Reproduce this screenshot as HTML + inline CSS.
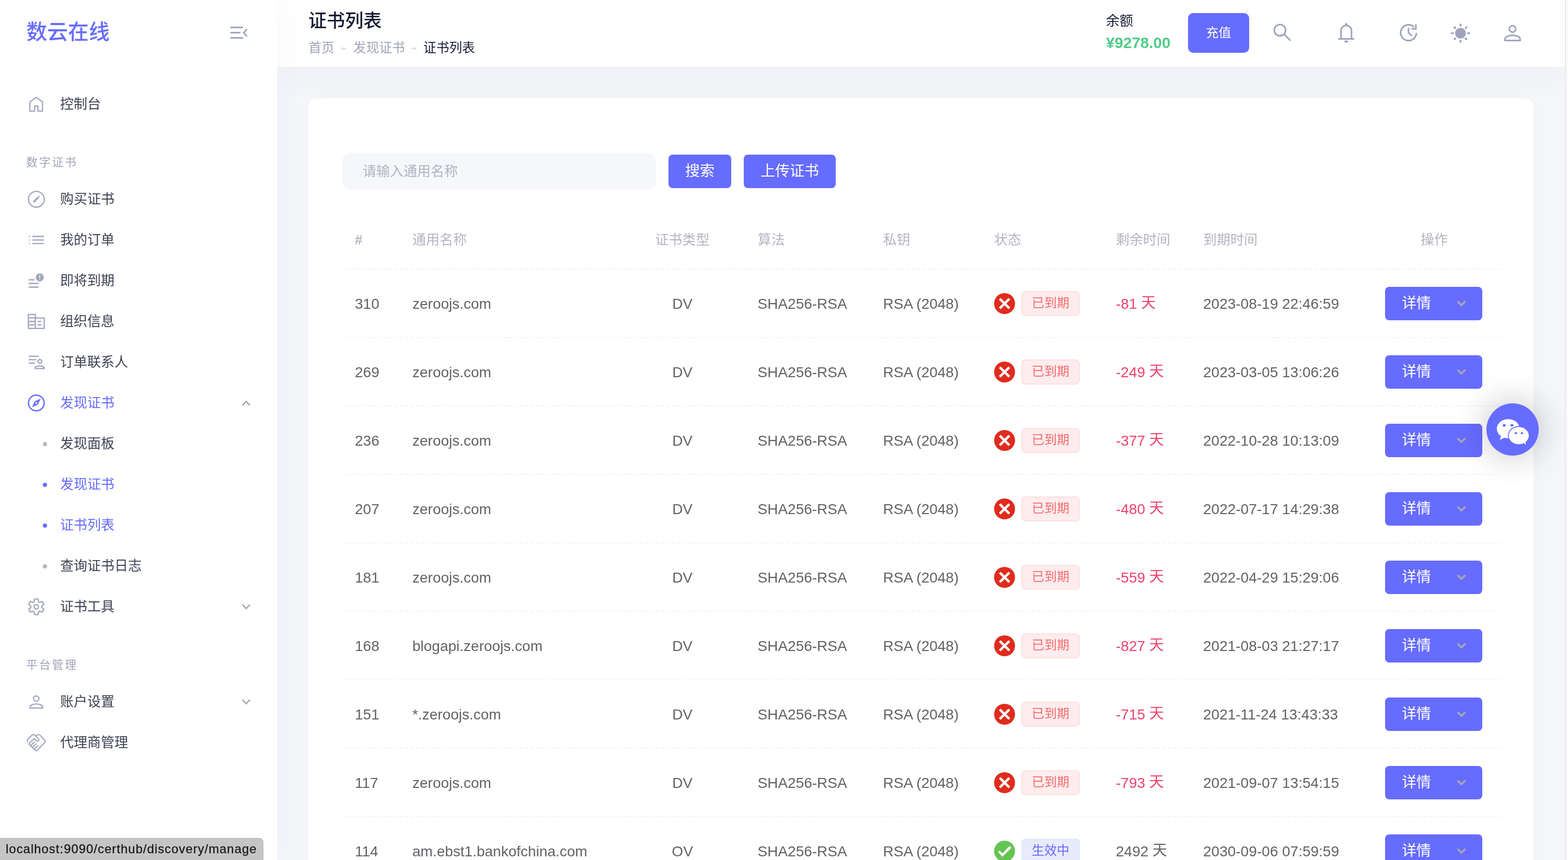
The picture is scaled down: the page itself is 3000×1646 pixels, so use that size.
<!DOCTYPE html><html lang="zh-CN"><head><meta charset="utf-8"><title>证书列表</title><style>
*{box-sizing:border-box;margin:0;padding:0}
html,body{width:3000px;height:1646px;overflow:hidden;background:#f5f6fa}
body{font-family:"Liberation Sans","Noto Sans CJK SC",sans-serif;position:relative;color:#5e6278}
.z{position:relative;display:inline-block;flex:none;line-height:1;vertical-align:middle}
.z i{position:absolute;left:0;top:0;width:100%;height:100%;color:inherit;font-style:normal;white-space:nowrap;overflow:visible;line-height:1;font-family:"Liberation Sans","Noto Sans CJK SC",sans-serif}
.a{position:absolute}
svg.ic{position:absolute;overflow:visible;fill:none;stroke:currentColor}
aside{position:absolute;left:0;top:0;width:530px;height:1646px;background:#fff;box-shadow:0 0 56px 0 rgba(76,87,125,.04);z-index:3}
aside .logo{position:absolute;left:50.5px;top:42.4px;color:#666cff;font-weight:500}
aside .it{position:absolute;left:0;width:530px;height:78px;color:#3f4254}
aside .it .t{position:absolute;left:115px;top:26px}
aside .it.on{color:#666cff}
aside .lab{position:absolute;left:50px;color:#a1a5b7}
aside .lab .z i{letter-spacing:2.7px}
aside .dot{position:absolute;left:82px;top:35.8px;width:8px;height:8px;border-radius:50%;background:#b5b5c3}
aside .it.on .dot{background:#666cff}
.gi{color:#9fa3bc}
header{will-change:transform;position:absolute;left:530px;top:0;width:2464px;height:128px;background:#fff;box-shadow:0 20px 60px 0 rgba(76,87,125,.035);z-index:2}
header .ttl{position:absolute;left:60px;top:22.3px;color:#181c32;font-weight:500}
header .bc{position:absolute;top:80.4px;color:#a1a5b7}
header .bc.cur{color:#181c32}
header .sep{position:absolute;top:91px;width:10px;height:4px;border-radius:2px;background:#e1e3ea}
header .bal{position:absolute;left:1586px;top:27px;color:#181c32}
header .amt{position:absolute;left:1586px;top:64px;height:36px;line-height:36px;font-size:29.6px;font-weight:700;color:#50cd89;white-space:nowrap}
.btn{position:absolute;background:#666cff;color:#fff;border-radius:8px;display:flex;align-items:center;justify-content:center}
main{position:absolute;left:530px;top:128px;width:2464px;height:1518px;z-index:1}
.card{will-change:transform;position:absolute;left:60px;top:60px;width:2344px;height:1600px;background:#fff;border-radius:16px;box-shadow:0 0 40px 0 rgba(76,87,125,.02)}
.inp{position:absolute;left:65px;top:105px;width:600px;height:70px;border-radius:16px;background:#f6f7fa;color:#b1b3c1}
.inp .z{position:absolute;left:39px;top:21.8px}
.tbl{position:absolute;left:65px;top:261px;width:2215px}
.tr{position:absolute;left:0;width:2215px;height:131px;border-bottom:2px dashed #f2f4f7;font-size:28px;color:#606266}
.th{top:0;height:67px;color:#b5b5c3;border-bottom:2px dashed #f2f4f7}
.c{position:absolute;top:1px;height:129px;display:flex;align-items:center;white-space:nowrap}
.th .c{height:20px;top:-6px}
.cc{justify-content:center}
.tag{position:absolute;left:1299px;top:41px;width:112px;height:48px;border-radius:8px;border:2px solid #fde0e2;background:#feecee;color:#f56c6c;display:flex;align-items:center;justify-content:center}
.tag.ok{border-color:#d9ecff;background:#e9eafc;color:#666cff}
.neg{color:#f1416c}
.fab{position:absolute;left:2844px;top:772px;width:100px;height:100px;border-radius:50%;background:#666cff;box-shadow:0 0 56px 8px rgba(20,20,30,.19);z-index:5}
.sb{position:absolute;left:2994px;top:0;width:6px;height:1646px;background:#fafafa;border-left:2px solid #e8e8e8;z-index:6}
.status{will-change:transform;position:absolute;left:0;top:1604px;width:504px;height:42px;background:#c5c5c5;border-top:1.5px solid #b0b0b0;border-right:1px solid #b8b8b8;border-top-right-radius:8px;color:#161616;font-size:23.8px;line-height:40px;padding-left:11px;z-index:9;white-space:nowrap;letter-spacing:1.06px;-webkit-text-stroke:.3px #161616}
</style></head><body><aside><div class="logo"><span class="z" style="width:159.2px;height:39.8px;font-size:39.8px;"><i>数云在线</i></span></div><span class="gi"><svg class="ic" style="left:436px;top:46px;stroke-width:2.8;" width="44" height="34" viewBox="436 46 44 34"><path d="M440.9,52.5H465M440.9,62.5H459.8M440.9,72.5H465M472.8,55.6L466.1,62.7L472.8,69.8"/></svg></span><div class="lab" style="top:300px"><span class="z" style="width:98.8px;height:22px;font-size:22px;"><i>数字证书</i></span></div><div class="lab" style="top:1262px"><span class="z" style="width:98.8px;height:22px;font-size:22px;"><i>平台管理</i></span></div><div class="it" style="top:160px"><span class="gi" style="position:absolute;left:0;top:-160px"><svg class="ic" style="left:50px;top:180px;stroke-width:2.3;" width="40" height="40" viewBox="50 180 40 40"><path d="M57.2,212.7V195L69.3,186.4L81.3,195V212.7H72.5V202.9H66.4V212.7Z"/></svg></span><span class="t"><span class="z" style="width:78px;height:26px;font-size:26px;"><i>控制台</i></span></span></div><div class="it" style="top:342px"><span class="gi" style="position:absolute;left:0;top:-342px"><svg class="ic" style="left:50px;top:361px;stroke-width:2.3;" width="40" height="40" viewBox="50 361 40 40"><circle cx="69.5" cy="381.4" r="15.1"/><path d="M63.2,387.7L64.4,384.9L72.3,377L75,379.7L67.1,387.6Z" fill="currentColor" stroke="none" transform="translate(-0.6,-0.5)"/><path d="M73.9,376.9L75.3,375.5" stroke-width="3.4"/></svg></span><span class="t"><span class="z" style="width:104px;height:26px;font-size:26px;"><i>购买证书</i></span></span></div><div class="it" style="top:420px"><span class="gi" style="position:absolute;left:0;top:-420px"><svg class="ic" style="left:50px;top:439px;stroke-width:2.3;" width="40" height="40" viewBox="50 439 40 40"><path d="M62,452.5H84M62,459.3H84M62,466.1H84M55.3,452.5H57.1M55.3,459.3H57.1M55.3,466.1H57.1"/></svg></span><span class="t"><span class="z" style="width:104px;height:26px;font-size:26px;"><i>我的订单</i></span></span></div><div class="it" style="top:498px"><span class="gi" style="position:absolute;left:0;top:-498px"><svg class="ic" style="left:50px;top:517px;stroke-width:2.3;" width="40" height="40" viewBox="50 517 40 40"><path d="M54.9,535.5H66M54.9,542.5H73.9M54.9,549.5H73.9"/><circle cx="76.1" cy="530.8" r="7.6" fill="currentColor" stroke="none"/><path d="M76.1,526.4V532.2M76.1,533.9V535.6" stroke="#fff" stroke-width="1.7"/></svg></span><span class="t"><span class="z" style="width:104px;height:26px;font-size:26px;"><i>即将到期</i></span></span></div><div class="it" style="top:576px"><span class="gi" style="position:absolute;left:0;top:-576px"><svg class="ic" style="left:50px;top:595px;stroke-width:2.3;" width="40" height="40" viewBox="50 595 40 40"><path d="M54.35,601.95H67.65V628.55H54.35ZM67.65,608.6H84.55V628.55H67.65M54.35,608.6H67.65M54.35,615.25H67.65M54.35,621.9H67.65M72.1,615.25H78.9M72.1,621.9H78.9"/></svg></span><span class="t"><span class="z" style="width:104px;height:26px;font-size:26px;"><i>组织信息</i></span></span></div><div class="it" style="top:654px"><span class="gi" style="position:absolute;left:0;top:-654px"><svg class="ic" style="left:50px;top:673px;stroke-width:2.3;" width="40" height="40" viewBox="50 673 40 40"><path d="M54.9,681.8H73.9M54.9,688.4H69.6M54.9,695H66.8"/><circle cx="76.2" cy="691.8" r="3.55"/><path d="M67.35,705.35H84.55V703.9C84.55,701.8 80.3,700.35 75.95,700.35S67.35,701.8 67.35,703.9Z"/></svg></span><span class="t"><span class="z" style="width:130px;height:26px;font-size:26px;"><i>订单联系人</i></span></span></div><div class="it on" style="top:732px"><span class="gi" style="position:absolute;left:0;top:-732px;color:#666cff"><svg class="ic" style="left:50px;top:751px;stroke-width:2.6;" width="40" height="40" viewBox="50 751 40 40"><circle cx="69.5" cy="771.3" r="15"/><path d="M77.8,763L72.5,774.3L61.2,779.6L66.5,768.3Z" fill="currentColor" stroke="none"/><circle cx="69.5" cy="771.3" r="1.8" fill="#fff" stroke="none"/></svg></span><span class="t"><span class="z" style="width:104px;height:26px;font-size:26px;"><i>发现证书</i></span></span><span style="position:absolute;left:0;top:-732px"><svg class="ic" style="left:461px;top:764.35px;stroke-width:2.6;color:#a1a5b7" width="20" height="16" viewBox="461 764.35 20 16"><path d="M463.9,776.15L471,768.5500000000001L478.1,776.15"/></svg></span></div><div class="it" style="top:810px"><span class="dot"></span><span class="t"><span class="z" style="width:104px;height:26px;font-size:26px;"><i>发现面板</i></span></span></div><div class="it on" style="top:888px"><span class="dot"></span><span class="t"><span class="z" style="width:104px;height:26px;font-size:26px;"><i>发现证书</i></span></span></div><div class="it on" style="top:966px"><span class="dot"></span><span class="t"><span class="z" style="width:104px;height:26px;font-size:26px;"><i>证书列表</i></span></span></div><div class="it" style="top:1044px"><span class="dot"></span><span class="t"><span class="z" style="width:156px;height:26px;font-size:26px;"><i>查询证书日志</i></span></span></div><div class="it" style="top:1122px"><span class="gi" style="position:absolute;left:0;top:-1122px"><svg class="ic" style="left:50px;top:1141px;stroke-width:2.3;" width="40" height="40" viewBox="50 1141 40 40"><path d="M65.28,1151.76 L66.27,1146.43 L72.63,1146.43 L73.62,1151.76 L75.71,1152.97 L80.82,1151.16 L84.00,1156.67 L79.88,1160.19 L79.88,1162.61 L84.00,1166.13 L80.82,1171.64 L75.71,1169.83 L73.62,1171.04 L72.63,1176.37 L66.27,1176.37 L65.28,1171.04 L63.19,1169.83 L58.08,1171.64 L54.90,1166.13 L59.02,1162.61 L59.02,1160.19 L54.90,1156.67 L58.08,1151.16 L63.19,1152.97Z" stroke-linejoin="round"/><circle cx="69.45" cy="1161.4" r="4.2"/></svg></span><span class="t"><span class="z" style="width:104px;height:26px;font-size:26px;"><i>证书工具</i></span></span><span style="position:absolute;left:0;top:-1122px"><svg class="ic" style="left:461px;top:1153.2px;stroke-width:2.6;color:#a1a5b7" width="20" height="16" viewBox="461 1153.2 20 16"><path d="M463.9,1157.4L471,1165.0L478.1,1157.4"/></svg></span></div><div class="it" style="top:1304px"><span class="gi" style="position:absolute;left:0;top:-1304px"><svg class="ic" style="left:50px;top:1323px;stroke-width:2.3;" width="40" height="40" viewBox="50 1323 40 40"><circle cx="69.4" cy="1337.1" r="5.1"/><path d="M57.55,1355.15H81.55V1352.9C81.55,1349.7 75.5,1347.35 69.55,1347.35S57.55,1349.7 57.55,1352.9Z"/></svg></span><span class="t"><span class="z" style="width:104px;height:26px;font-size:26px;"><i>账户设置</i></span></span><span style="position:absolute;left:0;top:-1304px"><svg class="ic" style="left:461px;top:1335.2px;stroke-width:2.6;color:#a1a5b7" width="20" height="16" viewBox="461 1335.2 20 16"><path d="M463.9,1339.4L471,1347.0L478.1,1339.4"/></svg></span></div><div class="it" style="top:1382px"><span class="gi" style="position:absolute;left:0;top:-1382px"><svg class="ic" style="left:48px;top:1400px;stroke-width:2.1;" width="44" height="42" viewBox="48 1400 44 42"><path d="M53.7,1420.8C52.0,1418.6 52.1,1416.0 54.2,1413.8L60.8,1407.3C62.6,1405.5 65.0,1405.5 66.9,1407.3L73.3,1413.8C75.0,1415.4 74.8,1417.1 73.3,1418.0C72.0,1418.9 70.4,1418.6 69.3,1417.5L65.4,1413.4L56.4,1422.4C55.3,1423.5 55.6,1425.0 56.9,1425.9L67.4,1436.0C68.5,1437.1 70.2,1437.0 71.3,1435.9L85.1,1422.1C86.7,1420.4 86.9,1418.0 85.3,1416.2L77.2,1407.7C75.3,1405.9 72.4,1405.7 70.5,1407.3L69.1,1408.7" stroke-linejoin="round"/><path d="M58.4,1427.4L65.9,1419.8M62,1430.7L69.3,1423.5M65.6,1434.1L72.9,1426.8"/></svg></span><span class="t"><span class="z" style="width:130px;height:26px;font-size:26px;"><i>代理商管理</i></span></span></div></aside><header><div class="ttl"><span class="z" style="width:140.4px;height:35.1px;font-size:35.1px;"><i>证书列表</i></span></div><div class="bc" style="left:60.2px"><span class="z" style="width:49.4px;height:24.7px;font-size:24.7px;"><i>首页</i></span></div><span class="sep" style="left:122px"></span><div class="bc" style="left:146px"><span class="z" style="width:98.8px;height:24.7px;font-size:24.7px;"><i>发现证书</i></span></div><span class="sep" style="left:257px"></span><div class="bc cur" style="left:280px"><span class="z" style="width:98.8px;height:24.7px;font-size:24.7px;"><i>证书列表</i></span></div><div class="bal"><span class="z" style="width:52px;height:26px;font-size:26px;"><i>余额</i></span></div><div class="amt">¥9278.00</div><div class="btn" style="left:1743px;top:25px;width:117px;height:76px;border-radius:10px"><span class="z" style="width:48px;height:24px;font-size:24px;top:-0.5px;"><i>充值</i></span></div><svg class="ic gi" style="left:1900px;top:40px;stroke-width:3" width="46" height="46" viewBox="2430 40 46 46"><circle cx="2448.9" cy="57.7" r="10.8"/><path d="M2456.6,65.4L2468.9,77.7"/></svg><svg class="ic gi" style="left:2024px;top:40px;stroke-width:3" width="44" height="46" viewBox="2554 40 44 46"><path d="M2565.7,74.5V58.7A10.05,10.05 0 0 1 2585.8,58.7V74.5M2560.3,74.5H2591"/><circle cx="2575.7" cy="46.2" r="2.2" fill="currentColor" stroke="none"/><path d="M2571.9,77.8H2579.6A3.85,3.85 0 0 1 2571.9,77.8Z" fill="currentColor" stroke="none"/></svg><svg class="ic gi" style="left:2144px;top:40px;stroke-width:3" width="44" height="46" viewBox="2674 40 44 46"><path d="M2705.20,51.56A15.1,15.1 0 1 0 2710.00,62.90"/><path d="M2709,46.8V55.1H2700.4"/><path d="M2694.9,53.3V62.3L2701.3,68.7"/></svg><svg class="ic gi" style="left:2242px;top:40px;stroke-width:3" width="46" height="48" viewBox="2772 40 46 48"><circle cx="2794.3" cy="63.6" r="10.3" fill="currentColor" stroke="none"/><path d="M2808.70,63.60L2811.00,63.60M2804.20,73.50L2805.76,75.06M2794.30,78.00L2794.30,80.30M2784.40,73.50L2782.84,75.06M2779.90,63.60L2777.60,63.60M2784.40,53.70L2782.84,52.14M2794.30,49.20L2794.30,46.90M2804.20,53.70L2805.76,52.14" stroke-linecap="round" stroke-width="3.6"/></svg><svg class="ic gi" style="left:2342px;top:40px;stroke-width:3" width="44" height="46" viewBox="2872 40 44 46"><circle cx="2893.9" cy="55.4" r="6.2"/><path d="M2879.5,77.5H2908.5V74.7C2908.5,70.5 2901.2,67.6 2894,67.6S2879.5,70.5 2879.5,74.7Z"/></svg></header><main><div class="card"><div class="inp"><span class="z" style="width:182px;height:26px;font-size:26px;"><i>请输入通用名称</i></span></div><div class="btn" style="left:689px;top:108px;width:120px;height:64px"><span class="z" style="width:56px;height:28px;font-size:28px;"><i>搜索</i></span></div><div class="btn" style="left:833px;top:108px;width:176px;height:64px"><span class="z" style="width:112px;height:28px;font-size:28px;"><i>上传证书</i></span></div><div class="tbl"><div class="tr th"><div class="c" style="left:24px;top:-4.6px;height:30px;font-size:26px;font-weight:700">#</div><div class="c" style="left:134px;top:-4.6px;height:30px"><span class="z" style="width:104px;height:26px;font-size:26px;"><i>通用名称</i></span></div><div class="c" style="left:598.6px;top:-4.6px;height:30px"><span class="z" style="width:104px;height:26px;font-size:26px;"><i>证书类型</i></span></div><div class="c" style="left:794.5px;top:-4.6px;height:30px"><span class="z" style="width:52px;height:26px;font-size:26px;"><i>算法</i></span></div><div class="c" style="left:1034.5px;top:-4.6px;height:30px"><span class="z" style="width:52px;height:26px;font-size:26px;"><i>私钥</i></span></div><div class="c" style="left:1247px;top:-4.6px;height:30px"><span class="z" style="width:52px;height:26px;font-size:26px;"><i>状态</i></span></div><div class="c" style="left:1480px;top:-4.6px;height:30px"><span class="z" style="width:104px;height:26px;font-size:26px;"><i>剩余时间</i></span></div><div class="c" style="left:1647px;top:-4.6px;height:30px"><span class="z" style="width:104px;height:26px;font-size:26px;"><i>到期时间</i></span></div><div class="c" style="left:2063px;top:-4.6px;height:30px"><span class="z" style="width:52px;height:26px;font-size:26px;"><i>操作</i></span></div></div><div class="tr" style="top:67px"><div class="c" style="left:24px">310</div><div class="c" style="left:134px">zeroojs.com</div><div class="c cc" style="left:590.6px;width:120px">DV</div><div class="c" style="left:794.5px">SHA256-RSA</div><div class="c" style="left:1034.5px">RSA (2048)</div><svg class="ic" style="left:1247px;top:45px" width="40" height="40" viewBox="-20 -20 40 40"><circle r="20" fill="#e02b1d" stroke="none"/><path d="M-9.2,-9.2L9.2,9.2M9.2,-9.2L-9.2,9.2" stroke="#fff" stroke-width="4.7"/></svg><div class="tag"><span class="z" style="width:72px;height:24px;font-size:24px;top:-0.9px;"><i>已到期</i></span></div><div class="c neg" style="left:1480px">-81&nbsp;<span class="z" style="width:28px;height:28px;font-size:28px;top:-1.5px;"><i>天</i></span></div><div class="c" style="left:1647px">2023-08-19 22:46:59</div><div class="btn" style="left:1995px;top:33px;width:186px;height:64px;justify-content:flex-start;padding-left:32px"><span class="z" style="width:56px;height:28px;font-size:28px;"><i>详情</i></span><svg class="ic" style="left:133px;top:20px;color:#a1a5b7" width="28" height="24" viewBox="2783 569 28 24"><path d="M2789.8,577.9L2796.1,584.2L2802.4,577.9" stroke-width="4" stroke-linecap="round" stroke-linejoin="round"/></svg></div></div><div class="tr" style="top:198px"><div class="c" style="left:24px">269</div><div class="c" style="left:134px">zeroojs.com</div><div class="c cc" style="left:590.6px;width:120px">DV</div><div class="c" style="left:794.5px">SHA256-RSA</div><div class="c" style="left:1034.5px">RSA (2048)</div><svg class="ic" style="left:1247px;top:45px" width="40" height="40" viewBox="-20 -20 40 40"><circle r="20" fill="#e02b1d" stroke="none"/><path d="M-9.2,-9.2L9.2,9.2M9.2,-9.2L-9.2,9.2" stroke="#fff" stroke-width="4.7"/></svg><div class="tag"><span class="z" style="width:72px;height:24px;font-size:24px;top:-0.9px;"><i>已到期</i></span></div><div class="c neg" style="left:1480px">-249&nbsp;<span class="z" style="width:28px;height:28px;font-size:28px;top:-1.5px;"><i>天</i></span></div><div class="c" style="left:1647px">2023-03-05 13:06:26</div><div class="btn" style="left:1995px;top:33px;width:186px;height:64px;justify-content:flex-start;padding-left:32px"><span class="z" style="width:56px;height:28px;font-size:28px;"><i>详情</i></span><svg class="ic" style="left:133px;top:20px;color:#a1a5b7" width="28" height="24" viewBox="2783 569 28 24"><path d="M2789.8,577.9L2796.1,584.2L2802.4,577.9" stroke-width="4" stroke-linecap="round" stroke-linejoin="round"/></svg></div></div><div class="tr" style="top:329px"><div class="c" style="left:24px">236</div><div class="c" style="left:134px">zeroojs.com</div><div class="c cc" style="left:590.6px;width:120px">DV</div><div class="c" style="left:794.5px">SHA256-RSA</div><div class="c" style="left:1034.5px">RSA (2048)</div><svg class="ic" style="left:1247px;top:45px" width="40" height="40" viewBox="-20 -20 40 40"><circle r="20" fill="#e02b1d" stroke="none"/><path d="M-9.2,-9.2L9.2,9.2M9.2,-9.2L-9.2,9.2" stroke="#fff" stroke-width="4.7"/></svg><div class="tag"><span class="z" style="width:72px;height:24px;font-size:24px;top:-0.9px;"><i>已到期</i></span></div><div class="c neg" style="left:1480px">-377&nbsp;<span class="z" style="width:28px;height:28px;font-size:28px;top:-1.5px;"><i>天</i></span></div><div class="c" style="left:1647px">2022-10-28 10:13:09</div><div class="btn" style="left:1995px;top:33px;width:186px;height:64px;justify-content:flex-start;padding-left:32px"><span class="z" style="width:56px;height:28px;font-size:28px;"><i>详情</i></span><svg class="ic" style="left:133px;top:20px;color:#a1a5b7" width="28" height="24" viewBox="2783 569 28 24"><path d="M2789.8,577.9L2796.1,584.2L2802.4,577.9" stroke-width="4" stroke-linecap="round" stroke-linejoin="round"/></svg></div></div><div class="tr" style="top:460px"><div class="c" style="left:24px">207</div><div class="c" style="left:134px">zeroojs.com</div><div class="c cc" style="left:590.6px;width:120px">DV</div><div class="c" style="left:794.5px">SHA256-RSA</div><div class="c" style="left:1034.5px">RSA (2048)</div><svg class="ic" style="left:1247px;top:45px" width="40" height="40" viewBox="-20 -20 40 40"><circle r="20" fill="#e02b1d" stroke="none"/><path d="M-9.2,-9.2L9.2,9.2M9.2,-9.2L-9.2,9.2" stroke="#fff" stroke-width="4.7"/></svg><div class="tag"><span class="z" style="width:72px;height:24px;font-size:24px;top:-0.9px;"><i>已到期</i></span></div><div class="c neg" style="left:1480px">-480&nbsp;<span class="z" style="width:28px;height:28px;font-size:28px;top:-1.5px;"><i>天</i></span></div><div class="c" style="left:1647px">2022-07-17 14:29:38</div><div class="btn" style="left:1995px;top:33px;width:186px;height:64px;justify-content:flex-start;padding-left:32px"><span class="z" style="width:56px;height:28px;font-size:28px;"><i>详情</i></span><svg class="ic" style="left:133px;top:20px;color:#a1a5b7" width="28" height="24" viewBox="2783 569 28 24"><path d="M2789.8,577.9L2796.1,584.2L2802.4,577.9" stroke-width="4" stroke-linecap="round" stroke-linejoin="round"/></svg></div></div><div class="tr" style="top:591px"><div class="c" style="left:24px">181</div><div class="c" style="left:134px">zeroojs.com</div><div class="c cc" style="left:590.6px;width:120px">DV</div><div class="c" style="left:794.5px">SHA256-RSA</div><div class="c" style="left:1034.5px">RSA (2048)</div><svg class="ic" style="left:1247px;top:45px" width="40" height="40" viewBox="-20 -20 40 40"><circle r="20" fill="#e02b1d" stroke="none"/><path d="M-9.2,-9.2L9.2,9.2M9.2,-9.2L-9.2,9.2" stroke="#fff" stroke-width="4.7"/></svg><div class="tag"><span class="z" style="width:72px;height:24px;font-size:24px;top:-0.9px;"><i>已到期</i></span></div><div class="c neg" style="left:1480px">-559&nbsp;<span class="z" style="width:28px;height:28px;font-size:28px;top:-1.5px;"><i>天</i></span></div><div class="c" style="left:1647px">2022-04-29 15:29:06</div><div class="btn" style="left:1995px;top:33px;width:186px;height:64px;justify-content:flex-start;padding-left:32px"><span class="z" style="width:56px;height:28px;font-size:28px;"><i>详情</i></span><svg class="ic" style="left:133px;top:20px;color:#a1a5b7" width="28" height="24" viewBox="2783 569 28 24"><path d="M2789.8,577.9L2796.1,584.2L2802.4,577.9" stroke-width="4" stroke-linecap="round" stroke-linejoin="round"/></svg></div></div><div class="tr" style="top:722px"><div class="c" style="left:24px">168</div><div class="c" style="left:134px">blogapi.zeroojs.com</div><div class="c cc" style="left:590.6px;width:120px">DV</div><div class="c" style="left:794.5px">SHA256-RSA</div><div class="c" style="left:1034.5px">RSA (2048)</div><svg class="ic" style="left:1247px;top:45px" width="40" height="40" viewBox="-20 -20 40 40"><circle r="20" fill="#e02b1d" stroke="none"/><path d="M-9.2,-9.2L9.2,9.2M9.2,-9.2L-9.2,9.2" stroke="#fff" stroke-width="4.7"/></svg><div class="tag"><span class="z" style="width:72px;height:24px;font-size:24px;top:-0.9px;"><i>已到期</i></span></div><div class="c neg" style="left:1480px">-827&nbsp;<span class="z" style="width:28px;height:28px;font-size:28px;top:-1.5px;"><i>天</i></span></div><div class="c" style="left:1647px">2021-08-03 21:27:17</div><div class="btn" style="left:1995px;top:33px;width:186px;height:64px;justify-content:flex-start;padding-left:32px"><span class="z" style="width:56px;height:28px;font-size:28px;"><i>详情</i></span><svg class="ic" style="left:133px;top:20px;color:#a1a5b7" width="28" height="24" viewBox="2783 569 28 24"><path d="M2789.8,577.9L2796.1,584.2L2802.4,577.9" stroke-width="4" stroke-linecap="round" stroke-linejoin="round"/></svg></div></div><div class="tr" style="top:853px"><div class="c" style="left:24px">151</div><div class="c" style="left:134px">*.zeroojs.com</div><div class="c cc" style="left:590.6px;width:120px">DV</div><div class="c" style="left:794.5px">SHA256-RSA</div><div class="c" style="left:1034.5px">RSA (2048)</div><svg class="ic" style="left:1247px;top:45px" width="40" height="40" viewBox="-20 -20 40 40"><circle r="20" fill="#e02b1d" stroke="none"/><path d="M-9.2,-9.2L9.2,9.2M9.2,-9.2L-9.2,9.2" stroke="#fff" stroke-width="4.7"/></svg><div class="tag"><span class="z" style="width:72px;height:24px;font-size:24px;top:-0.9px;"><i>已到期</i></span></div><div class="c neg" style="left:1480px">-715&nbsp;<span class="z" style="width:28px;height:28px;font-size:28px;top:-1.5px;"><i>天</i></span></div><div class="c" style="left:1647px">2021-11-24 13:43:33</div><div class="btn" style="left:1995px;top:33px;width:186px;height:64px;justify-content:flex-start;padding-left:32px"><span class="z" style="width:56px;height:28px;font-size:28px;"><i>详情</i></span><svg class="ic" style="left:133px;top:20px;color:#a1a5b7" width="28" height="24" viewBox="2783 569 28 24"><path d="M2789.8,577.9L2796.1,584.2L2802.4,577.9" stroke-width="4" stroke-linecap="round" stroke-linejoin="round"/></svg></div></div><div class="tr" style="top:984px"><div class="c" style="left:24px">117</div><div class="c" style="left:134px">zeroojs.com</div><div class="c cc" style="left:590.6px;width:120px">DV</div><div class="c" style="left:794.5px">SHA256-RSA</div><div class="c" style="left:1034.5px">RSA (2048)</div><svg class="ic" style="left:1247px;top:45px" width="40" height="40" viewBox="-20 -20 40 40"><circle r="20" fill="#e02b1d" stroke="none"/><path d="M-9.2,-9.2L9.2,9.2M9.2,-9.2L-9.2,9.2" stroke="#fff" stroke-width="4.7"/></svg><div class="tag"><span class="z" style="width:72px;height:24px;font-size:24px;top:-0.9px;"><i>已到期</i></span></div><div class="c neg" style="left:1480px">-793&nbsp;<span class="z" style="width:28px;height:28px;font-size:28px;top:-1.5px;"><i>天</i></span></div><div class="c" style="left:1647px">2021-09-07 13:54:15</div><div class="btn" style="left:1995px;top:33px;width:186px;height:64px;justify-content:flex-start;padding-left:32px"><span class="z" style="width:56px;height:28px;font-size:28px;"><i>详情</i></span><svg class="ic" style="left:133px;top:20px;color:#a1a5b7" width="28" height="24" viewBox="2783 569 28 24"><path d="M2789.8,577.9L2796.1,584.2L2802.4,577.9" stroke-width="4" stroke-linecap="round" stroke-linejoin="round"/></svg></div></div><div class="tr" style="top:1115px"><div class="c" style="left:24px">114</div><div class="c" style="left:134px">am.ebst1.bankofchina.com</div><div class="c cc" style="left:590.6px;width:120px">OV</div><div class="c" style="left:794.5px">SHA256-RSA</div><div class="c" style="left:1034.5px">RSA (2048)</div><svg class="ic" style="left:1247px;top:45px" width="40" height="40" viewBox="-20 -20 40 40"><circle r="20" fill="#64c452" stroke="none"/><path d="M-12.46,2.12L-9.5,-1.15L-4.2,4.45L9.5,-9.7L13.08,-6.13L-4.05,10.68Z" fill="#fff" stroke="none"/></svg><div class="tag ok"><span class="z" style="width:72px;height:24px;font-size:24px;top:-0.9px;"><i>生效中</i></span></div><div class="c" style="left:1480px">2492&nbsp;<span class="z" style="width:28px;height:28px;font-size:28px;top:-1.5px;"><i>天</i></span></div><div class="c" style="left:1647px">2030-09-06 07:59:59</div><div class="btn" style="left:1995px;top:33px;width:186px;height:64px;justify-content:flex-start;padding-left:32px"><span class="z" style="width:56px;height:28px;font-size:28px;"><i>详情</i></span><svg class="ic" style="left:133px;top:20px;color:#a1a5b7" width="28" height="24" viewBox="2783 569 28 24"><path d="M2789.8,577.9L2796.1,584.2L2802.4,577.9" stroke-width="4" stroke-linecap="round" stroke-linejoin="round"/></svg></div></div></div></div></main><div class="fab"><svg class="ic" style="left:0;top:0" width="100" height="100" viewBox="2844 772 100 100"><g fill="#fff" stroke="none"><ellipse cx="2885.6" cy="820.6" rx="21.8" ry="18.4"/><path d="M2872,834L2869.5,842L2879,837.5Z"/><ellipse cx="2905.6" cy="833.6" rx="20.6" ry="18" fill="#666cff"/><ellipse cx="2905.8" cy="833.8" rx="19.2" ry="16.5"/><path d="M2913,846L2919.5,851L2918.5,843.5Z"/></g><g fill="#666cff" stroke="none"><ellipse cx="2878" cy="814.1" rx="3" ry="2.4"/><ellipse cx="2892.7" cy="814.1" rx="3" ry="2.4"/><ellipse cx="2900.1" cy="829.1" rx="2.4" ry="2"/><ellipse cx="2912" cy="829.1" rx="2.4" ry="2"/></g></svg></div><div class="sb"></div><div class="status">localhost:9090/certhub/discovery/manage</div></body></html>
